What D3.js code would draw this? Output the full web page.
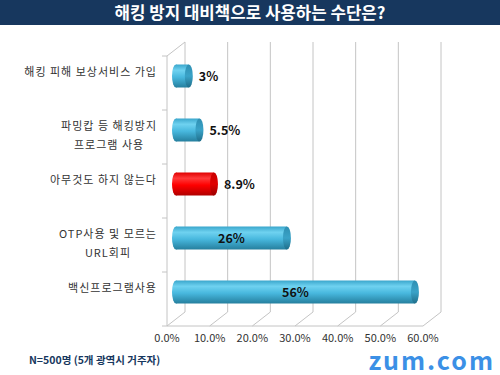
<!DOCTYPE html>
<html>
<head>
<meta charset="utf-8">
<script src="https://cdn.jsdelivr.net/npm/d3@7"></script>
<style>
  body { margin: 0; background: #fff; }
  text { font-family: "Noto Sans CJK KR", "Noto Sans", sans-serif; }
</style>
</head>
<body>
<div id="chart-area"></div>
<script>
// data
var categories = [
    ["해킹 피해 보상서비스 가입"],
    ["파밍캅 등 해킹방지", "프로그램 사용"],
    ["아무것도 하지 않는다"],
    ["OTP사용 및 모르는", "URL회피"],
    ["백신프로그램사용"]
]
var values = [3, 5.5, 8.9, 26, 56]
var valueLabels = ["3%", "5.5%", "8.9%", "26%", "56%"]
var highlight = [false, false, true, false, false]
var ticks = [0, 10, 20, 30, 40, 50, 60]

var W = 500, H = 375
var svg = d3.select("#chart-area").append("svg")
    .attr("width", W)
    .attr("height", H)

var defs = svg.append("defs")
function grad(id, stops) {
    var g = defs.append("linearGradient").attr("id", id)
        .attr("x1", 0).attr("y1", 0).attr("x2", 0).attr("y2", 1)
    stops.forEach(s => g.append("stop").attr("offset", s[0]).attr("stop-color", s[1]))
}
grad("blue", [[0, "#3aa6cc"], [0.25, "#6fd2f0"], [0.55, "#48b8de"], [1, "#257f9e"]])
grad("blueCap", [[0, "#2f8fb2"], [0.5, "#3aa3c8"], [1, "#1f6e8a"]])
grad("red", [[0, "#e00000"], [0.25, "#ff3a3a"], [0.55, "#ff0000"], [1, "#b00000"]])
grad("redCap", [[0, "#c80000"], [0.5, "#e00000"], [1, "#9a0000"]])

// title bar
svg.append("rect")
    .attr("x", 0).attr("y", 0)
    .attr("width", W).attr("height", 25)
    .attr("fill", "#17375e")
svg.append("text")
    .attr("x", W / 2).attr("y", 19)
    .attr("text-anchor", "middle")
    .attr("fill", "#fff")
    .attr("font-size", "16.8px")
    .attr("font-weight", "bold")
    .text("해킹 방지 대비책으로 사용하는 수단은?")

// plot geometry (3D-ish: depth offset)
var m = {l: 167, t: 56, r: 77, b: 49}
var w = W - m.l - m.r
var h = H - m.t - m.b
var dx = 18, dy = -14

var x = d3.scaleLinear().domain([0, 60]).range([0, w])
var y = d3.scaleBand().domain(d3.range(categories.length)).range([0, h])

var g = svg.append("g").attr("transform", "translate(" + m.l + "," + m.t + ")")

var gridColor = "#c4c4c4"
// back wall gridlines
g.selectAll(".grid").data(ticks).enter().append("line")
    .attr("x1", d => x(d) + dx).attr("x2", d => x(d) + dx)
    .attr("y1", dy).attr("y2", h + dy)
    .attr("stroke", gridColor)
// floor depth lines
g.selectAll(".floor").data(ticks).enter().append("line")
    .attr("x1", d => x(d)).attr("x2", d => x(d) + dx)
    .attr("y1", h).attr("y2", h + dy)
    .attr("stroke", gridColor)
// floor front edge
g.append("line")
    .attr("x1", 0).attr("x2", x(60))
    .attr("y1", h).attr("y2", h)
    .attr("stroke", gridColor)
// left wall
g.append("line").attr("x1", 0).attr("x2", 0).attr("y1", 0).attr("y2", h).attr("stroke", gridColor)
g.append("line").attr("x1", 0).attr("x2", dx).attr("y1", 0).attr("y2", dy).attr("stroke", gridColor)
// category ticks
g.selectAll(".ctick").data(d3.range(categories.length + 1)).enter().append("line")
    .attr("x1", -5).attr("x2", 0)
    .attr("y1", d => d * y.step()).attr("y2", d => d * y.step())
    .attr("stroke", gridColor)

// x tick labels
g.selectAll(".xlab").data(ticks).enter().append("text")
    .attr("x", d => x(d)).attr("y", h + 15.5)
    .attr("text-anchor", "middle")
    .attr("font-family", "'Liberation Sans', Arial, sans-serif")
    .attr("font-size", "11px")
    .attr("fill", "#333")
    .text(d => d.toFixed(1) + "%")

// category labels (multi-line ones centred on their widest line)
categories.forEach((lines, i) => {
    var t = g.append("text")
        .attr("text-anchor", "middle")
        .attr("font-size", "11px")
        .attr("letter-spacing", "1px")
        .attr("fill", "#333")
    var spans = lines.map((s, k) => t.append("tspan")
        .attr("y", y(i) + y.bandwidth() / 2 - 7.5 + k * 19.5)
        .text(s))
    var maxW = d3.max(spans, s => s.node().getComputedTextLength())
    spans.forEach(s => s.attr("x", -10 - maxW / 2))
})

// cylinders
var ry = 11.5, rx = 4
var bars = g.selectAll(".bar").data(values).enter().append("g")
    .attr("transform", (d, i) => "translate(0," + (y(i) + y.bandwidth() / 2 + dy / 2) + ")")
bars.append("ellipse")
    .attr("cx", dx / 2).attr("cy", 0)
    .attr("rx", rx).attr("ry", ry)
    .attr("fill", (d, i) => highlight[i] ? "url(#red)" : "url(#blue)")
bars.append("rect")
    .attr("x", dx / 2).attr("y", -ry)
    .attr("width", d => x(d))
    .attr("height", ry * 2)
    .attr("fill", (d, i) => highlight[i] ? "url(#red)" : "url(#blue)")
bars.append("ellipse")
    .attr("cx", d => x(d) + dx / 2).attr("cy", 0)
    .attr("rx", rx).attr("ry", ry)
    .attr("fill", (d, i) => highlight[i] ? "url(#redCap)" : "url(#blueCap)")

// value labels
bars.append("text")
    .attr("x", d => d > 20 ? dx / 2 + x(d) / 2 : x(d) + dx / 2 + rx + 6)
    .attr("y", 5)
    .attr("text-anchor", d => d > 20 ? "middle" : "start")
    .attr("font-size", "12.5px")
    .attr("font-weight", "bold")
    .attr("fill", "#111")
    .text((d, i) => valueLabels[i])

// footer
svg.append("text")
    .attr("x", 29).attr("y", 364)
    .attr("font-size", "10.5px")
    .attr("font-weight", "bold")
    .attr("fill", "#17375e")
    .text("N=500명 (5개 광역시 거주자)")
svg.append("text")
    .attr("x", 495).attr("y", 369.5)
    .attr("text-anchor", "end")
    .attr("font-family", "'Liberation Sans', Arial, sans-serif")
    .attr("font-size", "25px")
    .attr("letter-spacing", "2px")
    .attr("font-weight", "bold")
    .attr("fill", "#3b90e6")
    .text("zum.com")
</script>
</body>
</html>
